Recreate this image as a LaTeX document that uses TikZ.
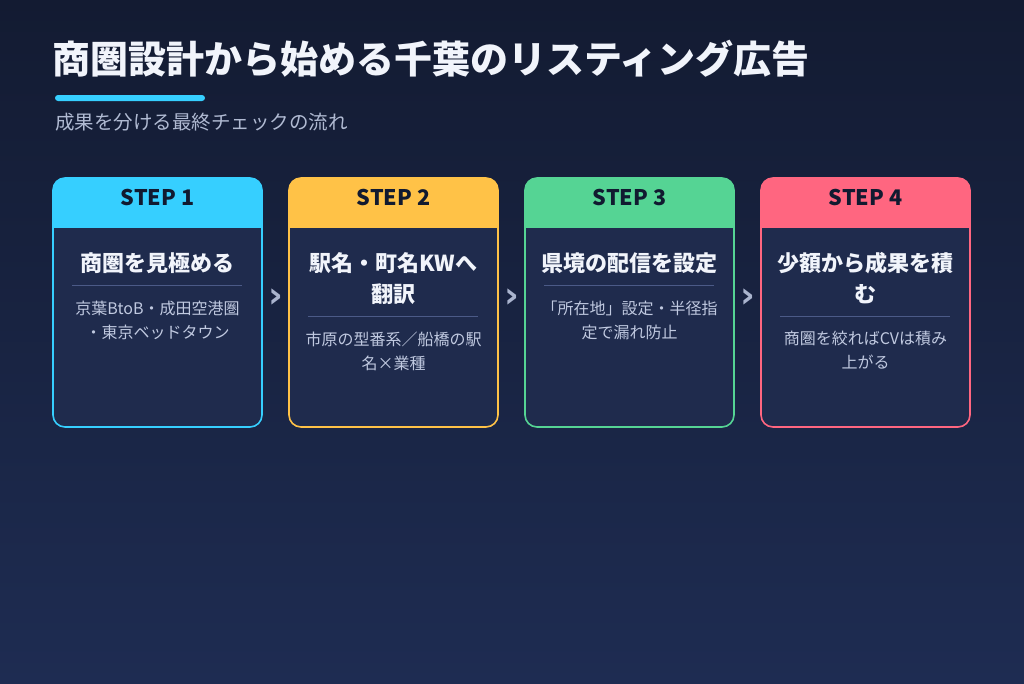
\documentclass[tikz,border=0pt]{standalone}
\usepackage{fontspec}
\setmainfont{Noto Sans CJK JP}
\newfontfamily\symfont{DejaVu Sans}
\usetikzlibrary{calc,positioning}
\definecolor{night}{RGB}{19,27,50}
\definecolor{dusk}{RGB}{30,44,82}
\definecolor{panel}{RGB}{31,43,77}
\definecolor{sky}{RGB}{54,207,255}
\definecolor{sun}{RGB}{255,194,71}
\definecolor{mint}{RGB}{85,212,148}
\definecolor{rose}{RGB}{255,102,128}
\definecolor{ink}{RGB}{17,26,48}
\definecolor{snow}{RGB}{241,244,251}
\definecolor{mist}{RGB}{176,186,210}
\definecolor{haze}{RGB}{192,201,224}
\definecolor{rule}{RGB}{75,90,135}
\definecolor{pale}{RGB}{170,180,206}

\tikzset{
  card/.style={draw=#1,fill=panel,line width=1.6pt,rounded corners=12pt,
    minimum width=209pt,minimum height=249pt,inner sep=0pt,
    path picture={\fill[#1,sharp corners] (path picture bounding box.north west)
      rectangle ([yshift=-50pt]path picture bounding box.north east);}},
  steplabel/.style={text=ink,font=\bfseries\fontsize{21.5}{24}\selectfont,inner sep=0pt},
  cardtitle/.style={anchor=north,text=snow,text width=200pt,align=center,
    font=\bfseries\fontsize{22}{31}\selectfont,inner sep=0pt},
  cardbody/.style={anchor=north,text=haze,text width=200pt,align=center,
    font=\fontsize{16}{24}\selectfont,inner sep=0pt},
  divline/.style={draw=rule,line width=0.8pt},
  chevron/.style={text=pale,font=\symfont\bfseries\fontsize{36}{36}\selectfont,inner sep=0pt}
}

\begin{document}
\begin{tikzpicture}[x=1pt,y=-1pt]
  \shade[top color=night,bottom color=dusk] (0,0) rectangle (1024,683);
  \useasboundingbox (0,0) rectangle (1024,683);

  % heading
  \node[anchor=base west,inner sep=0pt,text=snow,font=\bfseries\fontsize{38}{40}\selectfont]
    (head) at (52,73.5) {商圏設計から始める千葉のリスティング広告};
  \fill[sky,rounded corners=3pt] (55,95) rectangle (205,101);
  \node[anchor=base west,inner sep=0pt,text=mist,font=\fontsize{19.5}{22}\selectfont]
    (sub) at (55,129) {成果を分ける最終チェックの流れ};

  % step cards
  \foreach \t/\b/\c [count=\i] in {商圏を見極める/京葉BtoB・成田空港圏\\・東京ベッドタウン/sky,
      駅名・町名KWへ\\翻訳/市原の型番系／船橋の駅\\名×業種/sun,
      県境の配信を設定/「所在地」設定・半径指\\定で漏れ防止/mint,
      少額から成果を積\\む/商圏を絞ればCVは積み\\上がる/rose}{
    \node[card=\c] (c\i) at ({157.5+236*(\i-1)},302.5) {};
    \node[steplabel] (h\i) at ([yshift=-20.5pt]c\i.north) {STEP \i};
    \node[cardtitle] (t\i) at ([yshift=-75pt]c\i.north) {\t};
    \coordinate (d\i) at ([yshift=-12pt]t\i.south);
    \draw[divline] ($(d\i -| c\i.west)+(20,0)$) -- ($(d\i -| c\i.east)+(-21,0)$);
    \node[cardbody] (b\i) at ([yshift=-15pt]d\i) {\b};
  }

  % chevrons between cards
  \foreach \i in {1,2,3}{
    \pgfmathtruncatemacro\j{\i+1}
    \node[chevron] (a\i) at ($(c\i.east)!0.5!(c\j.west)+(0,-4)$) {›};
  }
\end{tikzpicture}
\end{document}
